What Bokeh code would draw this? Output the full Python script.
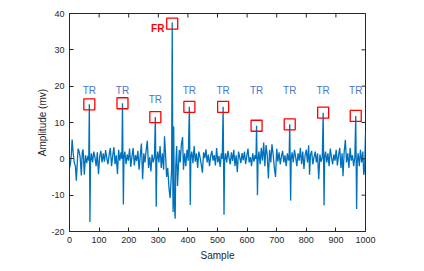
import math
from bokeh.plotting import figure
from bokeh.models import Range1d, FixedTicker, ColumnDataSource
from bokeh.core.properties import value
from bokeh.embed import file_html
from bokeh.resources import INLINE

# ---- data ----
sample = [0,3,6,9,12,16,20,23,26,29,32,36,40,43,46,50,54,58,62,65,
          67,69,71,
          74,78,82,86,90,94,98,102,106,110,114,118,122,126,130,134,138,142,146,150,154,158,162,166,170,174,177,
          179,182,184,
          187,191,195,199,203,207,211,215,219,223,227,231,235,239,243,247,251,255,259,263,267,271,275,279,283,287,
          290,293,295,
          298,302,306,310,314,318,321,324,328,332,336,340,343,345,
          347,349,350,352,354,357,359,362,365,368,371,374,378,382,385,389,393,397,401,
          405,408,410,
          413,417,421,425,429,433,437,441,445,449,453,457,461,465,469,473,477,481,485,489,493,497,501,505,509,513,516,
          519,522,524,
          527,531,535,539,543,547,551,555,559,563,567,571,575,579,583,587,591,595,599,603,607,611,615,619,623,627,630,
          632,635,637,
          640,644,648,652,656,660,664,668,672,676,680,684,688,692,696,700,704,708,712,716,720,724,728,732,736,740,742,
          744,747,749,
          752,756,760,764,768,772,776,780,784,788,792,796,800,804,808,811,814,818,822,826,830,834,838,842,846,850,854,
          857,860,862,
          865,869,873,877,881,885,889,893,897,901,905,909,913,917,921,924,928,932,936,940,944,948,952,956,960,964,
          967,970,972,
          975,979,983,987,991,994,997,1000]
amplitude = [-2.5,-1.5,1.0,5.3,2.0,-1.0,-2.0,-6.0,-1.5,2.8,2.2,0.5,-4.6,1.8,2.6,-4.4,1.0,-1.2,0.8,-0.5,
             15.0,-17.4,-1.0,
             1.5,-1.0,2.0,0.5,-2.0,1.8,-4.2,0.6,2.2,-1.0,1.5,-0.8,2.4,0.2,-1.5,1.2,3.0,-2.0,0.8,3.2,-1.5,1.0,-4.2,2.5,-0.5,1.8,0.0,
             15.3,-12.6,0.5,
             2.0,-1.5,1.2,-0.5,2.8,-2.2,0.6,3.0,-1.8,1.0,-0.6,2.2,-3.0,0.8,4.2,-5.6,1.5,-1.0,2.5,5.0,-2.5,0.5,-3.5,1.2,-1.0,0.6,
             11.5,-13.2,-0.5,
             2.0,-1.0,3.5,-2.5,1.5,-3.0,6.2,2.0,-5.0,-2.5,-8.0,-10.8,-6.0,-3.0,
             37.5,-6.0,-14.6,8.9,-12.0,-16.5,-2.0,3.5,-7.5,-2.0,2.5,-1.0,4.0,6.0,-3.0,1.5,-2.0,2.5,-0.5,
             14.3,-12.7,0.5,
             2.0,-1.2,3.5,-0.8,1.5,-2.5,2.0,0.5,-1.5,-3.8,1.8,0.2,2.6,-1.0,1.2,-2.0,0.8,2.2,-0.5,1.0,-1.8,3.0,-1.0,0.8,-2.2,1.5,0.0,
             14.3,-15.4,-0.5,
             1.5,-1.0,2.2,0.3,-1.5,1.8,-0.6,2.5,-2.0,1.0,-3.7,2.0,0.5,-1.2,1.6,-0.4,2.0,-1.5,0.8,2.8,-1.0,0.5,-2.0,1.5,-0.8,1.0,0.0,
             9.1,-10.0,-0.5,
             2.0,-1.5,3.0,-0.5,4.5,-2.0,3.8,1.0,-5.4,2.5,-1.0,4.0,1.2,-2.5,-5.0,2.8,-0.8,1.8,-1.5,0.6,2.2,-1.0,1.0,-2.0,1.5,-0.5,0.3,
             9.5,-11.5,0.0,
             1.8,-1.0,2.5,0.5,-2.0,1.5,-0.5,3.0,-1.5,2.0,-2.8,1.0,2.5,-1.0,3.7,-4.4,1.0,2.2,-1.5,0.5,2.0,-1.0,1.5,-5.6,1.2,-0.8,0.5,
             12.7,-12.8,0.5,
             2.0,-1.0,1.5,-2.0,2.8,0.5,-1.5,1.2,-0.5,2.5,-1.8,1.0,3.0,-2.5,1.5,-4.8,2.0,5.2,-1.0,1.5,-2.5,3.0,-0.5,1.0,-2.0,0.5,
             11.8,-13.8,-1.0,
             1.5,-2.0,2.5,-1.0,2.0,-4.4,-3.0,7.0]

tr_sample = [67, 179, 290, 405, 519, 632, 744, 857, 967]
tr_peak = [15.0, 15.3, 11.5, 14.3, 14.3, 9.1, 9.5, 12.7, 11.8]
tr_label_y = [18.9, 18.9, 16.4, 18.9, 18.9, 18.9, 18.9, 18.9, 18.9]
tr_labels = ["TR"] * 9

fr_sample = [347]
fr_peak = [37.2]
fr_label_x = [298]
fr_label_y = [36.0]
fr_labels = ["FR"]

x_ticks = [0, 100, 200, 300, 400, 500, 600, 700, 800, 900, 1000]
y_ticks = [-20, -10, 0, 10, 20, 30, 40]
y_tick_labels = ["-20", "-10", "0", "10", "20", "30", "40"]
x_min, x_max = 0, 1000
y_min, y_max = -20, 40

AX = "#262626"
FONT = "Liberation Sans"

p = figure(width=416, height=263, output_backend="svg", toolbar_location=None,
           x_range=Range1d(x_min, x_max), y_range=Range1d(y_min, y_max),
           min_border_left=69, min_border_right=51, min_border_top=13, min_border_bottom=29)
p.background_fill_color = "white"
p.border_fill_color = "white"
p.outline_line_color = AX
p.outline_line_width = 1
p.xgrid.visible = False
p.ygrid.visible = False

p.line(sample, amplitude, line_color="#0072BD", line_width=1.3)

p.scatter(tr_sample, tr_peak, marker="square", size=11, fill_color=None,
          line_color="#FF0000", line_width=1.3)
p.scatter(fr_sample, fr_peak, marker="square", size=11, fill_color=None,
          line_color="#FF0000", line_width=1.3)

tr_src = ColumnDataSource(dict(x=tr_sample, y=tr_label_y, t=tr_labels))
p.text(x="x", y="y", text="t", source=tr_src, text_align="center", text_baseline="middle",
       text_color="#4A78C8", text_font_size="10px", text_font=value(FONT))
fr_src = ColumnDataSource(dict(x=fr_label_x, y=fr_label_y, t=fr_labels))
p.text(x="x", y="y", text="t", source=fr_src, text_align="center", text_baseline="middle",
       text_color="#FF0000", text_font_size="10px", text_font=value(FONT), text_font_style="bold")

# inward ticks on top and right edges of the box
p.ray(x=x_ticks, y=[y_max] * len(x_ticks), length=4, length_units="screen",
      angle=-math.pi / 2, line_color=AX, line_width=1)
p.ray(x=[x_max] * len(y_ticks), y=y_ticks, length=4, length_units="screen",
      angle=math.pi, line_color=AX, line_width=1)

def style(ax, ticks):
    ax.ticker = FixedTicker(ticks=ticks)
    ax.axis_line_color = AX
    ax.major_tick_line_color = AX
    ax.major_tick_in = 4
    ax.major_tick_out = 0
    ax.minor_tick_line_color = None
    ax.major_label_text_color = AX
    ax.major_label_text_font = FONT
    ax.major_label_text_font_size = "9px"
    ax.axis_label_text_font = FONT
    ax.axis_label_text_font_size = "10px"
    ax.axis_label_text_font_style = "normal"
    ax.axis_label_text_color = AX

style(p.xaxis[0], x_ticks)
style(p.yaxis[0], y_ticks)
p.yaxis[0].major_label_overrides = dict(zip(y_ticks, y_tick_labels))
p.xaxis[0].axis_label = "Sample"
p.xaxis[0].axis_label_standoff = 4
p.xaxis[0].major_label_standoff = 5
p.yaxis[0].axis_label = "Amplitude (mv)"
p.yaxis[0].axis_label_standoff = 0
p.yaxis[0].major_label_standoff = 5

open("out.html", "w").write(file_html(p, INLINE))
